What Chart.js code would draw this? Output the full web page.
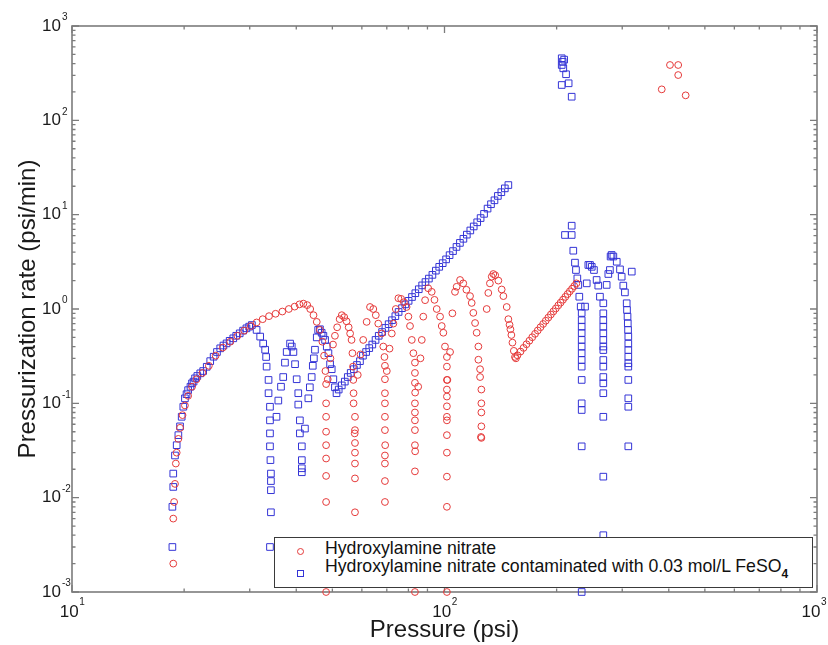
<!DOCTYPE html>
<html>
<head>
<meta charset="utf-8">
<script src="https://cdn.jsdelivr.net/npm/chart.js@4.4.0/dist/chart.umd.min.js"></script>
<style>
html,body{margin:0;padding:0;background:#fff;}
#wrap{position:relative;width:828px;height:645px;}
canvas{display:block;}
#legend{position:absolute;left:274px;top:537px;width:537px;height:49px;border:1px solid #3a3a3a;background:#fff;font-family:'Liberation Sans',Arial,sans-serif;font-size:17.7px;color:#111;}
#legend .mk{position:absolute;box-sizing:border-box;width:7px;height:7px;}
#legend .circ{left:21.5px;top:9.5px;border:1px solid #e53a3a;border-radius:50%;}
#legend .sq{left:21.5px;top:31.5px;border:1px solid #3434d6;}
#legend .lbl{position:absolute;left:50px;white-space:nowrap;line-height:20px;}
#legend .sub{position:relative;top:6px;font-size:12px;font-weight:bold;}
</style>
</head>
<body>
<div id="wrap">
<canvas id="c" width="828" height="645"></canvas>
<div id="legend">
  <span class="mk circ"></span><span class="lbl" style="top:0px">Hydroxylamine nitrate</span>
  <span class="mk sq"></span><span class="lbl" style="top:18px">Hydroxylamine nitrate contaminated with 0.03 mol/L FeSO<span class="sub">4</span></span>
</div>
</div>
<script>
// ---------- Data: [pressure (psi), pressurization rate (psi/min)] ----------
// Hydroxylamine nitrate (red circles)
const hanRise = [[18.7,0.002],[18.7,0.006],[18.8,0.009],[18.9,0.014],[19.0,0.023],[19.1,0.03],[19.3,0.042],[19.5,0.055],[19.8,0.075],[20.1,0.095],[20.5,0.12],[21.0,0.15],[21.6,0.18],[22.4,0.21],[23.3,0.25],[24.3,0.32],[25.4,0.39],[26.6,0.45],[27.8,0.52],[29.0,0.59],[30.2,0.66],[31.3,0.72],[32.5,0.78],[33.8,0.84],[35.2,0.89],[36.7,0.94],[38.2,1.0],[39.6,1.06],[40.8,1.12],[41.8,1.14],[42.8,1.1],[43.6,1.0],[44.5,0.86],[45.4,0.73],[46.3,0.6],[47.0,0.45],[47.5,0.32],[47.9,0.22],[48.1,0.16],[48.1,0.1],[48.1,0.072],[48.1,0.05],[48.1,0.036],[48.1,0.026],[48.1,0.017],[48.1,0.009],[48.1,0.001]];
const hanLoop2 = [[48.6,0.18],[49.4,0.3],[50.2,0.42],[50.8,0.52],[51.5,0.64],[52.3,0.78],[53.0,0.86],[53.8,0.82],[54.6,0.74],[55.3,0.64],[55.8,0.55],[56.3,0.47],[56.6,0.34],[56.8,0.245],[56.9,0.177],[57.0,0.128],[57.0,0.1],[57.5,0.072],[57.5,0.052],[57.4,0.048],[57.5,0.038],[57.5,0.03],[57.5,0.023],[57.5,0.016],[57.5,0.007]];
const hanLoop3 = [[58.5,0.2],[59.5,0.33],[60.5,0.47],[61.8,0.73],[63.1,1.05],[64.4,1.0],[65.4,0.86],[66.4,0.7],[67.8,0.55],[68.5,0.4],[69.0,0.31],[69.2,0.25],[69.2,0.18],[69.2,0.128],[69.2,0.1],[69.2,0.072],[69.2,0.052],[69.3,0.036],[69.2,0.028],[69.2,0.023],[69.2,0.015],[69.2,0.009]];
const hanLoop4 = [[70.0,0.22],[71.2,0.38],[72.2,0.55],[72.9,0.7],[74.0,1.0],[75.2,1.3],[76.5,1.28],[77.8,1.18],[79.1,1.05],[80.0,0.83],[80.8,0.66],[81.7,0.47],[82.5,0.34],[83.3,0.27],[83.3,0.21],[83.3,0.165],[83.4,0.13],[83.3,0.1],[83.3,0.08],[83.3,0.066],[83.3,0.052],[83.3,0.036],[83.4,0.031],[83.3,0.019],[83.3,0.001]];
const hanLoop5 = [[85.0,0.15],[86.2,0.3],[86.9,0.47],[87.7,0.83],[88.7,1.24],[90.4,1.66],[92.4,1.52],[94.0,1.25],[95.3,1.0],[97.3,0.83],[98.3,0.66],[99.3,0.56],[100.3,0.4],[101.5,0.31],[101.5,0.245],[101.5,0.177],[101.8,0.177],[101.5,0.14],[101.5,0.118],[101.5,0.093],[101.5,0.072],[101.5,0.066],[101.5,0.046],[101.5,0.03],[101.5,0.0167],[101.5,0.008],[101.5,0.001]];
const hanLoop6 = [[103.5,0.35],[105.0,0.9],[106.7,1.52],[107.8,1.72],[110.1,2.03],[112.3,1.87],[114.5,1.6],[117.1,1.37],[118.3,1.16],[119.5,0.91],[120.8,0.71],[122.0,0.56],[123.3,0.4],[123.3,0.29],[124.6,0.23],[124.6,0.19],[125.6,0.14],[125.6,0.1],[125.6,0.08],[125.6,0.057],[125.6,0.043],[125.3,0.044]];
const hanLoop7 = [[129.8,1.0],[131.1,1.48],[132.4,1.87],[133.9,2.2],[135.2,2.35],[136.8,2.28],[139.5,2.0],[142.4,1.61],[143.9,1.37],[146.9,1.05],[148.4,0.78],[149.5,0.68],[150.3,0.61],[151.2,0.53],[152.2,0.44],[153.5,0.36],[154.6,0.31],[155.5,0.30]];
const hanRamp = [[157,0.323],[160,0.354],[163,0.387],[166,0.423],[169,0.461],[172,0.502],[175,0.545],[178,0.592],[181,0.641],[184,0.694],[187,0.751],[190,0.811],[193,0.874],[196,0.942],[199,1.013],[202,1.09],[205,1.169],[208,1.254],[211,1.344],[214,1.44],[217,1.54],[220,1.64],[223,1.75],[226,1.87]];
const hanBurst = [[383,213],[403,386],[424,386],[424,302],[444,184]];

// Hydroxylamine nitrate + 0.03 mol/L FeSO4 (blue squares)
const feRise = [[18.6,0.003],[18.6,0.008],[18.7,0.013],[18.7,0.018],[18.9,0.028],[19.1,0.036],[19.3,0.046],[19.5,0.057],[19.7,0.072],[19.9,0.092],[20.1,0.113],[20.3,0.125],[20.5,0.138],[20.8,0.15],[21.0,0.163],[21.2,0.17],[21.4,0.184],[21.7,0.195],[22.1,0.208],[22.5,0.22],[23.0,0.244],[23.5,0.28],[24.0,0.312],[24.5,0.35],[25.0,0.383],[25.5,0.41],[26.0,0.432],[26.5,0.46],[27.1,0.489],[27.6,0.52],[28.2,0.552],[28.8,0.59],[29.4,0.624],[29.9,0.65],[30.4,0.676]];
const feDip1 = [[31.3,0.60],[32.0,0.51],[32.6,0.43],[33.0,0.37],[33.2,0.31],[33.3,0.245],[33.7,0.177],[33.7,0.128],[34.0,0.092],[34.0,0.066],[34.0,0.048],[34.0,0.035],[34.1,0.025],[34.2,0.018],[34.2,0.015],[34.2,0.012],[34.2,0.007],[34.0,0.003]];
const feDip2 = [[35.4,0.072],[35.8,0.107],[36.4,0.15],[36.9,0.19],[37.3,0.27],[37.7,0.35],[38.5,0.43],[38.9,0.40],[39.3,0.35],[39.7,0.26],[40.1,0.18],[40.5,0.128],[40.5,0.097],[40.9,0.066],[40.9,0.048],[41.4,0.035],[41.4,0.025],[41.4,0.0205],[41.4,0.0186]];
const feTrough = [[42.2,0.054],[43.1,0.113],[43.5,0.148],[44.0,0.19],[44.3,0.25],[44.6,0.30],[44.9,0.37],[45.4,0.5],[45.8,0.60],[46.3,0.61],[46.8,0.56],[47.3,0.52],[47.8,0.47],[48.3,0.40],[48.8,0.34],[49.3,0.26],[49.8,0.23],[50.3,0.18],[50.8,0.148],[51.3,0.128]];
const feRamp = [[52.0,0.14],[53.0,0.155],[54.0,0.17],[55.0,0.19],[56.0,0.21],[57.1,0.23],[58.2,0.255],[59.3,0.28],[60.4,0.32],[61.6,0.35],[62.8,0.385],[64.0,0.42],[65.3,0.47],[66.6,0.52],[68.0,0.57],[69.4,0.63],[70.8,0.69],[72.3,0.76],[73.8,0.84],[75.3,0.93],[76.9,1.02],[78.5,1.12],[80.1,1.22],[81.8,1.34],[83.5,1.47],[85.3,1.62],[87.1,1.78],[88.9,1.93],[90.8,2.1],[92.8,2.3],[94.8,2.55],[96.8,2.8],[98.9,3.06],[101.0,3.36],[103.2,3.72],[105.4,4.11],[107.7,4.55],[110.0,5.02],[112.4,5.55],[114.8,6.14],[117.3,6.8],[119.8,7.5],[122.4,8.3],[125.0,9.2],[127.7,10.2],[130.5,11.6],[133.3,12.9],[136.2,14.2],[139.1,15.8],[142.1,17.3],[145.2,19.0],[148.4,20.6]];
const feBurst = [[206.4,455],[207.6,418],[206.4,386],[208.4,356],[209.5,440],[212.0,308],[206.4,237],[215.4,247],[219.5,178]];
const feOsc1 = [[219.5,7.64],[210.6,6.09],[219.5,6.09],[221.7,4.15],[224.0,3.1],[225.4,2.59],[227.3,2.11],[228.7,1.8],[230.1,1.35],[232.1,1.06],[233.5,0.907],[233.5,0.76],[233.5,0.65],[233.5,0.556],[233.5,0.47],[233.5,0.40],[233.5,0.34],[233.5,0.288],[233.5,0.245],[233.5,0.177],[233.5,0.10],[233.5,0.085],[233.5,0.035],[233.5,0.001]];
const feOsc2 = [[238.4,1.06],[240.9,1.87],[243.3,2.93],[245.8,2.93],[248.5,2.8],[251.9,2.59],[256.1,2.03],[258.7,1.77],[261.4,1.35],[266.9,1.15],[266.9,0.9],[266.9,0.76],[266.9,0.65],[266.9,0.553],[266.9,0.47],[266.9,0.40],[266.9,0.367],[266.9,0.288],[266.9,0.245],[266.9,0.19],[266.9,0.163],[266.9,0.128],[266.9,0.072],[266.9,0.0167],[266.9,0.004]];
const feOsc3 = [[272.5,1.8],[275.3,2.35],[278.0,2.59],[279.2,3.6],[281.0,3.74],[284.0,3.6],[290.0,3.17],[295.9,2.63],[299.0,2.2],[302.0,1.77],[305.0,1.5],[308.4,1.15],[309.0,0.976],[310.0,0.83],[310.5,0.705],[311.0,0.6],[311.5,0.51],[311.5,0.43],[311.5,0.367],[311.5,0.312],[311.5,0.266],[311.5,0.245],[311.5,0.177],[311.5,0.113],[311.5,0.092],[311.5,0.035],[318.2,2.49]];

// Axis ticks
const xTickValues = [10, 100, 1000];
const xTickExponents = ['1', '2', '3'];
const yTickValues = [0.001, 0.01, 0.1, 1, 10, 100, 1000];
const yTickExponents = ['-3', '-2', '-1', '0', '1', '2', '3'];
const minorMultipliers = [2, 3, 4, 5, 6, 7, 8, 9];

const seriesNames = ['Hydroxylamine nitrate', 'Hydroxylamine nitrate contaminated with 0.03 mol/L FeSO4'];
// -----------------------------------------------------------------------

const toPoints = segs => segs.flat().map(p => ({x: p[0], y: p[1]}));
const hanData = toPoints([hanRise, hanLoop2, hanLoop3, hanLoop4, hanLoop5, hanLoop6, hanLoop7, hanRamp, hanBurst]);
const feData = toPoints([feRise, feDip1, feDip2, feTrough, feRamp, feBurst, feOsc1, feOsc2, feOsc3]);

const FAM = "'Liberation Sans', Arial, sans-serif";

const matlabAxes = {
  id: 'matlabAxes',
  beforeDatasetsDraw(chart) {
    const {ctx, chartArea: a, scales: {x, y}} = chart;
    ctx.save();
    ctx.strokeStyle = '#7c7c7c';
    ctx.lineWidth = 1.3;
    const MAJ = 7, MIN = 3.5;
    ctx.beginPath();
    xTickValues.forEach((d, i) => {
      const px = x.getPixelForValue(d);
      ctx.moveTo(px, a.bottom); ctx.lineTo(px, a.bottom - MAJ);
      ctx.moveTo(px, a.top); ctx.lineTo(px, a.top + MAJ);
      if (i < xTickValues.length - 1) minorMultipliers.forEach(m => {
        const q = x.getPixelForValue(d * m);
        ctx.moveTo(q, a.bottom); ctx.lineTo(q, a.bottom - MIN);
        ctx.moveTo(q, a.top); ctx.lineTo(q, a.top + MIN);
      });
    });
    yTickValues.forEach((d, i) => {
      const py = y.getPixelForValue(d);
      ctx.moveTo(a.left, py); ctx.lineTo(a.left + MAJ, py);
      ctx.moveTo(a.right, py); ctx.lineTo(a.right - MAJ, py);
      if (i < yTickValues.length - 1) minorMultipliers.forEach(m => {
        const q = y.getPixelForValue(d * m);
        ctx.moveTo(a.left, q); ctx.lineTo(a.left + MIN, q);
        ctx.moveTo(a.right, q); ctx.lineTo(a.right - MIN, q);
      });
    });
    ctx.stroke();
    ctx.lineWidth = 1.6;
    ctx.strokeRect(a.left, a.top, a.right - a.left, a.bottom - a.top);

    ctx.fillStyle = '#1a1a1a';
    ctx.textBaseline = 'middle';
    ctx.textAlign = 'left';
    const BASE = '17px ' + FAM, EXP = '10px ' + FAM;
    xTickValues.forEach((d, i) => {
      const px = x.getPixelForValue(d);
      ctx.font = BASE; const wb = ctx.measureText('10').width;
      ctx.font = EXP; const we = ctx.measureText(xTickExponents[i]).width;
      const s = Math.min(px - (wb + we) / 2, chart.width - wb - we - 2);
      ctx.font = BASE; ctx.fillText('10', s, a.bottom + 20.5);
      ctx.font = EXP; ctx.fillText(xTickExponents[i], s + wb + 0.5, a.bottom + 10);
    });
    yTickValues.forEach((d, i) => {
      const py = y.getPixelForValue(d);
      ctx.font = BASE; ctx.textAlign = 'right'; ctx.fillText('10', a.left - 11, py);
      ctx.font = EXP; ctx.textAlign = 'left'; ctx.fillText(yTickExponents[i], a.left - 10, py - 8.5);
    });
    ctx.restore();
  }
};

new Chart(document.getElementById('c'), {
  type: 'scatter',
  data: {
    datasets: [
      {label: seriesNames[0], data: hanData, pointStyle: 'circle', pointRadius: 3.4, borderColor: '#e53a3a', backgroundColor: 'rgba(0,0,0,0)', borderWidth: 1, clip: false},
      {label: seriesNames[1], data: feData, pointStyle: 'rect', pointRadius: 4.7, borderColor: '#3434d6', backgroundColor: 'rgba(0,0,0,0)', borderWidth: 1, clip: false}
    ]
  },
  options: {
    responsive: false,
    animation: false,
    devicePixelRatio: 1,
    layout: {padding: {top: 26, right: 11, left: 0, bottom: 0}},
    plugins: {legend: {display: false}, tooltip: {enabled: false}},
    scales: {
      x: {
        type: 'logarithmic', position: 'bottom', min: 10, max: 1000,
        grid: {display: false}, border: {display: false}, ticks: {display: false},
        title: {display: true, text: 'Pressure (psi)', color: '#1a1a1a', font: {family: FAM, size: 24}, padding: {top: 0, bottom: 0.6}},
        afterFit(s) { s.height = 53; }
      },
      y: {
        type: 'logarithmic', position: 'left', min: 0.001, max: 1000,
        grid: {display: false}, border: {display: false}, ticks: {display: false},
        title: {display: true, text: 'Pressurization rate (psi/min)', color: '#1a1a1a', font: {family: FAM, size: 24}, padding: {top: 13.6, bottom: 0}},
        afterFit(s) { s.width = 72; }
      }
    }
  },
  plugins: [matlabAxes]
});
</script>
</body>
</html>
